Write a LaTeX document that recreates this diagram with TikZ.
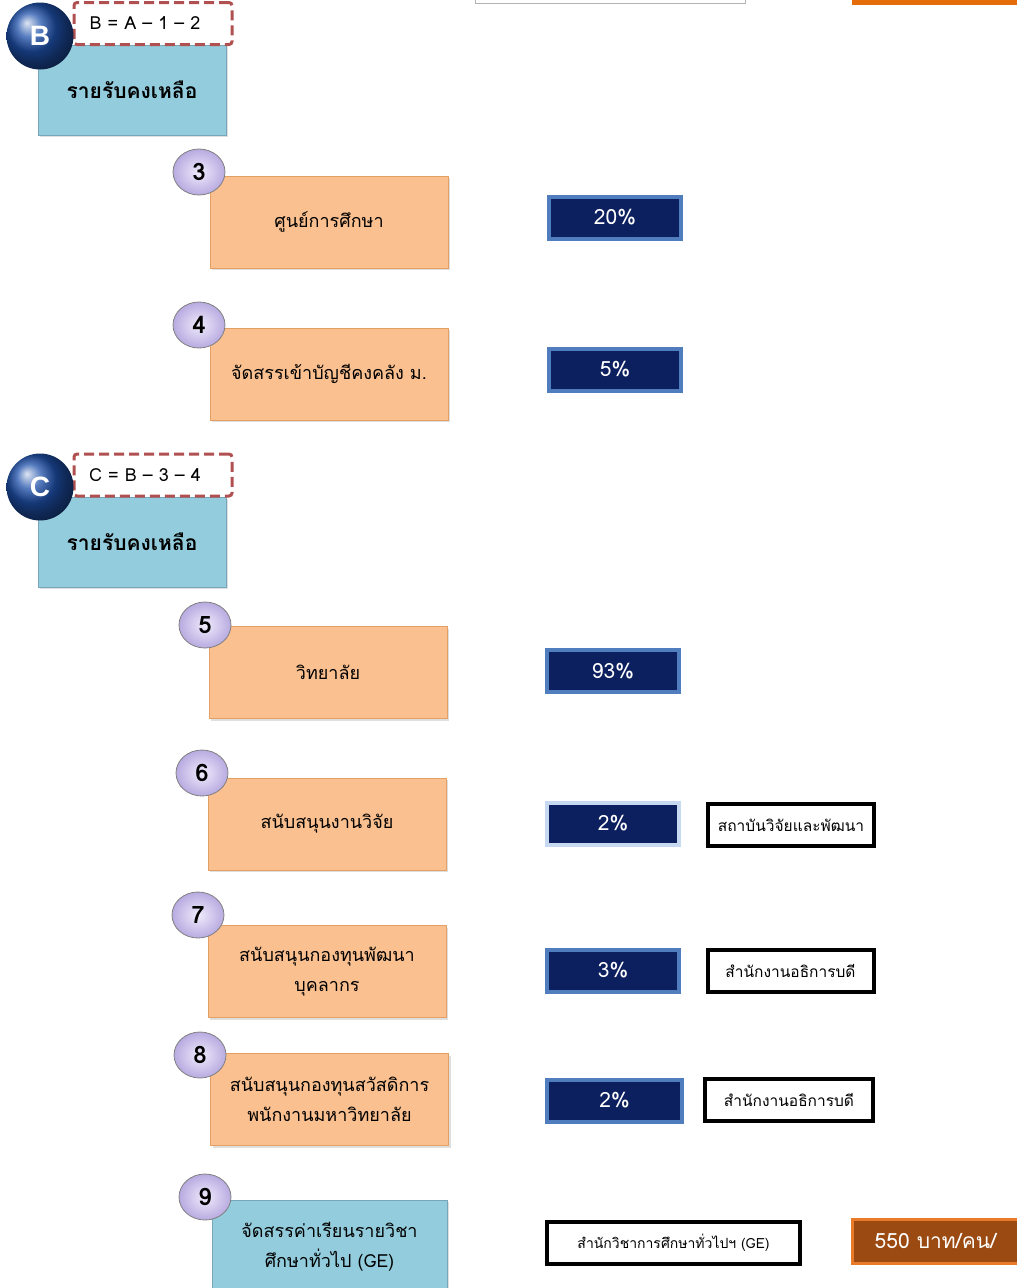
\documentclass[tikz,border=0pt]{standalone}
\usepackage{fontspec}
\setmainfont{Liberation Sans}
\newfontfamily\thaifont[Script=Thai]{Loma}
\usetikzlibrary{shadows,shapes.geometric}
\definecolor{tealfill}{RGB}{147,205,221}
\definecolor{tealline}{RGB}{120,165,185}
\definecolor{orfill}{RGB}{250,192,144}
\definecolor{orline}{RGB}{228,160,100}
\definecolor{navy}{RGB}{12,31,94}
\definecolor{navyline}{RGB}{79,125,190}
\definecolor{navylight}{RGB}{198,217,241}
\definecolor{lavin}{RGB}{240,236,252}
\definecolor{lavout}{RGB}{184,170,224}
\definecolor{dashred}{RGB}{176,80,80}
\definecolor{brownfill}{RGB}{155,74,18}
\definecolor{brownline}{RGB}{232,122,42}
\definecolor{topor}{RGB}{228,108,10}
\definecolor{sphere}{RGB}{30,80,170}
\tikzset{
  tealbox/.style={draw=tealline, line width=1pt, fill=tealfill, minimum width=188, minimum height=90, inner sep=0pt,
    font=\thaifont\bfseries\fontsize{21}{24}\selectfont, drop shadow={opacity=0.25, shadow xshift=2pt, shadow yshift=-2pt}},
  orbox/.style={draw=orline, line width=0.8pt, fill=orfill, minimum width=238, minimum height=92, inner sep=0pt,
    align=center, font=\thaifont\fontsize{18}{30}\selectfont, drop shadow={opacity=0.25, shadow xshift=2pt, shadow yshift=-2pt}},
  pctbox/.style={draw=navyline, line width=4pt, fill=navy, text=white, minimum width=132, minimum height=42, inner sep=0pt,
    font=\thaifont\fontsize{21}{23}\selectfont},
  orgbox/.style={draw=black, line width=4pt, fill=white, minimum width=166, minimum height=42, inner sep=0pt,
    font=\thaifont\fontsize{15.5}{18}\selectfont},
  dashbox/.style={draw=dashred, line width=3pt, dash pattern=on 10pt off 5pt, fill=white, minimum width=158, minimum height=42,
    inner sep=0pt, rounded corners=3pt, font=\thaifont\fontsize{18}{20}\selectfont},
  numcirc/.style={ellipse, draw=gray, line width=0.8pt, inner color=lavin, outer color=lavout,
    minimum width=52, minimum height=46, inner sep=0pt, font=\thaifont\bfseries\fontsize{24}{26}\selectfont},
  ballcirc/.style={circle, ball color=sphere, draw=none, minimum size=67, inner sep=0pt, text=white,
    font=\bfseries\fontsize{28}{30}\selectfont}
}
\begin{document}
\begin{tikzpicture}[x=1pt,y=-1pt]
\useasboundingbox (0,0) rectangle (1017,1288);
% partial boxes at the top edge
\path[draw=gray!60, line width=1pt, fill=white] (475,-40) rectangle (745,3);
\path[fill=topor] (852,-40) rectangle (1030,5);

% ---- B ----
\node[tealbox] (tB) at (132,90) {รายรับคงเหลือ};
\node[dashbox] (dB) at (153,23.5) {\hspace*{-16pt}B = A – 1 – 2};
\node[ballcirc] (cB) at (40,36) {B};

\node[orbox] (o3) at (329,222) {ศูนย์การศึกษา};
\node[numcirc] (n3) at (199,172) {3};
\node[pctbox] (p3) at (615,217.5) {20\%};

\node[orbox] (o4) at (329,374) {จัดสรรเข้าบัญชีคงคลัง ม.};
\node[numcirc] (n4) at (199,325) {4};
\node[pctbox] (p4) at (615,369.5) {5\%};

% ---- C ----
\node[tealbox] (tC) at (132,542) {รายรับคงเหลือ};
\node[dashbox] (dC) at (153,475) {\hspace*{-16pt}C = B – 3 – 4};
\node[ballcirc] (cC) at (40,487) {C};

\node[orbox] (o5) at (328,672.5) {วิทยาลัย};
\node[numcirc] (n5) at (205,625) {5};
\node[pctbox] (p5) at (613,671) {93\%};

\node[orbox] (o6) at (327,824) {สนับสนุนงานวิจัย};
\node[numcirc] (n6) at (202,773) {6};
\node[pctbox, draw=navylight] (p6) at (613,823.5) {2\%};
\node[orgbox] (g6) at (791,825) {สถาบันวิจัยและพัฒนา};

\node[orbox] (o7) at (327,971.5) {สนับสนุนกองทุนพัฒนา\\บุคลากร};
\node[numcirc] (n7) at (198,915) {7};
\node[pctbox] (p7) at (613,970.5) {3\%};
\node[orgbox] (g7) at (790.5,971) {สำนักงานอธิการบดี};

\node[orbox] (o8) at (329.5,1099.5) {สนับสนุนกองทุนสวัสดิการ\\พนักงานมหาวิทยาลัย};
\node[numcirc] (n8) at (200,1055) {8};
\node[pctbox, minimum width=135] (p8) at (614.5,1100.5) {2\%};
\node[orgbox, minimum width=168] (g8) at (789,1100) {สำนักงานอธิการบดี};

\node[orbox, fill=tealfill, draw=tealline, minimum width=235, minimum height=100, text depth=10pt] (o9) at (329.5,1250) {จัดสรรค่าเรียนรายวิชา\\ศึกษาทั่วไป (GE)};
\node[numcirc] (n9) at (205,1197) {9};
\node[orgbox, minimum width=253, font=\thaifont\fontsize{14}{16}\selectfont] (g9) at (673.5,1243) {สำนักวิชาการศึกษาทั่วไปฯ (GE)};
\node[draw=brownline, line width=3pt, fill=brownfill, text=white, minimum width=176, minimum height=44, inner sep=0pt,
  anchor=west, font=\thaifont\fontsize{21}{23}\selectfont] (m9) at (851,1241) {\hspace*{-10pt}550 บาท/คน/};
\end{tikzpicture}
\end{document}
